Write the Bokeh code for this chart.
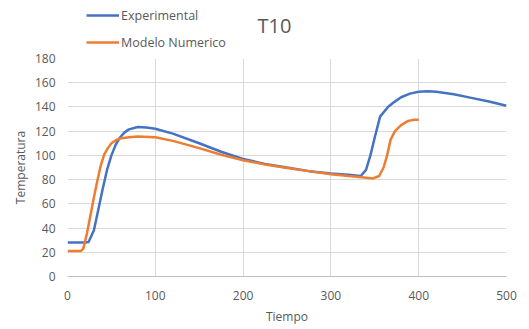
from bokeh.plotting import figure
from bokeh.layouts import column
from bokeh.models import Legend, LegendItem, Label, FixedTicker, Range1d
from bokeh.embed import file_html
from bokeh.resources import INLINE

# Experimental temperature readings
exp_t = [0, 10, 20, 24, 30, 35, 40, 45, 50, 55, 60, 65, 70, 80, 90, 100, 120, 150, 175, 200,
         225, 250, 275, 300, 320, 334, 340, 345, 350, 356, 365, 372, 380, 390, 400, 410, 420,
         440, 460, 480, 500]
exp_temp = [28, 28, 28, 28.5, 38, 55, 72, 88, 100, 109, 115, 119, 121.5, 123.5, 123, 122, 118,
            110, 103, 97, 93, 90, 87, 85, 84, 83, 88, 100, 115, 132, 140, 144, 148, 151, 152.5,
            153, 152.5, 150.5, 147.5, 144.5, 141]

# Numerical model results
mod_t = [0, 10, 15, 18, 22, 26, 30, 34, 38, 42, 46, 50, 55, 60, 70, 80, 100, 120, 150, 175,
         200, 225, 250, 275, 300, 320, 335, 348, 355, 360, 364, 368, 373, 380, 388, 395, 400]
mod_temp = [21, 21, 21, 23, 35, 50, 65, 79, 92, 101, 106, 110, 112.5, 114, 115, 115.5, 115,
            112, 106, 100.5, 96, 92.5, 89.5, 87, 84.5, 83, 82, 81, 83, 90, 100, 113, 120, 125,
            128.5, 129.5, 129.5]

series_names = ["Experimental", "Modelo Numerico"]
series_colors = ["#4472C4", "#ED7D31"]
x_ticks = [0, 100, 200, 300, 400, 500]
y_ticks = [0, 20, 40, 60, 80, 100, 120, 140, 160, 180]

FONT = "Open Sans"
GREY = "#595959"
W = 529
HEAD_H = 50
LEFT, RIGHT = 67, 23

# Header strip holding the legend and the title; its x range is in page pixels
head = figure(width=W, height=HEAD_H, output_backend="svg", toolbar_location=None,
              x_range=Range1d(LEFT, W - RIGHT), y_range=Range1d(0, HEAD_H),
              x_axis_type=None, y_axis_type=None,
              min_border_left=LEFT, min_border_right=RIGHT,
              min_border_top=0, min_border_bottom=0)
head.outline_line_color = None
head.grid.visible = False
# legend swatches: lines kept outside the visible range
key_lines = [head.line([-20, -10], [-20, -10], line_color=c, line_width=2.5)
             for c in series_colors]
legend = Legend(items=[LegendItem(label=n, renderers=[r]) for n, r in zip(series_names, key_lines)],
                location=(19, -1), orientation="vertical", margin=0, padding=2,
                label_text_font=FONT, label_text_font_size="12.5px", label_text_color=GREY,
                glyph_width=33, glyph_height=18, label_standoff=2, spacing=9,
                background_fill_alpha=0, border_line_color=None)
head.add_layout(legend, "center")
head.add_layout(Label(x=257, y=HEAD_H - 24.5, text="T10", text_font=FONT,
                      text_font_size="20px", text_color=GREY, text_baseline="middle"))

# Main chart
p = figure(width=W, height=329 - HEAD_H, output_backend="svg", toolbar_location=None,
           x_range=Range1d(0, 500), y_range=Range1d(0, 180),
           min_border_left=LEFT, min_border_right=RIGHT, min_border_top=8, min_border_bottom=53)
p.outline_line_color = None
p.background_fill_color = "white"

p.line(exp_t, exp_temp, line_color=series_colors[0], line_width=2.5)
p.line(mod_t, mod_temp, line_color=series_colors[1], line_width=2.5)

p.xaxis.ticker = FixedTicker(ticks=x_ticks)
p.yaxis.ticker = FixedTicker(ticks=y_ticks)
p.xgrid.ticker = FixedTicker(ticks=x_ticks)
p.ygrid.ticker = FixedTicker(ticks=y_ticks)
p.xgrid.grid_line_color = "#d9d9d9"
p.ygrid.grid_line_color = "#d9d9d9"

for ax in (p.xaxis, p.yaxis):
    ax.major_tick_line_color = None
    ax.minor_tick_line_color = None
    ax.major_label_text_font = FONT
    ax.major_label_text_font_size = "12px"
    ax.major_label_text_color = GREY
    ax.axis_label_text_font = FONT
    ax.axis_label_text_font_size = "12px"
    ax.axis_label_text_font_style = "normal"
    ax.axis_label_text_color = GREY

p.xaxis.axis_line_color = "#bfbfbf"
p.yaxis.axis_line_color = None
p.xaxis.axis_label = "Tiempo"
p.yaxis.axis_label = "Temperatura"
p.xaxis.major_label_standoff = 8
p.yaxis.major_label_standoff = 6
p.yaxis.axis_label_standoff = 3

layout = column(head, p, spacing=0)
open("out.html", "w").write(file_html(layout, INLINE))
